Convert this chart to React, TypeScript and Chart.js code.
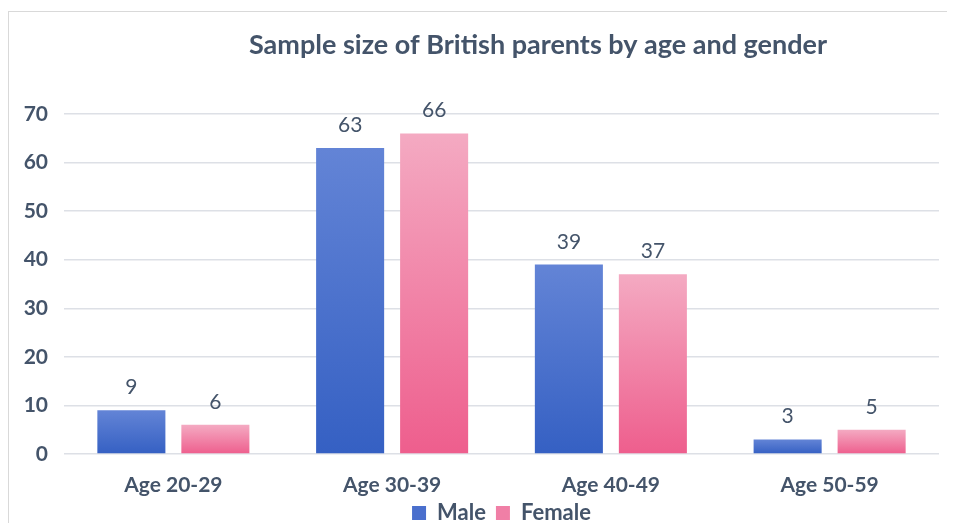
import { useEffect, useRef } from "react";
import { Chart, registerables } from "chart.js";

Chart.register(...registerables);

// Chart content
const chartTitle = "Sample size of British parents by age and gender";
const categories = ["Age 20-29", "Age 30-39", "Age 40-49", "Age 50-59"];
const seriesNames = ["Male", "Female"];
const maleCounts = [9, 63, 39, 3];
const femaleCounts = [6, 66, 37, 5];
const yMax = 70;
const yStep = 10;

// Styling
const textColor = "#44546A";
const gridColor = "#DDE0E6";
const fontFamily = "Lato, 'Open Sans', sans-serif";
const maleTop = "#6384D6";
const maleBottom = "#3560C3";
const femaleTop = "#F4AAC2";
const femaleBottom = "#EE5E8D";
const legendSwatches = ["#4A6FCD", "#F07FA6"];

// Vertical gradient spanning each bar, from its top down to the baseline
function barGradient(top: string, bottom: string) {
  return (ctx: any) => {
    const chart = ctx.chart;
    if (ctx.type !== "data" || !chart.chartArea || !chart.scales.y) return bottom;
    const yScale = chart.scales.y;
    const yTop = yScale.getPixelForValue(ctx.raw as number);
    const yBase = yScale.getPixelForValue(0);
    if (!isFinite(yTop) || !isFinite(yBase) || yBase - yTop < 1) return bottom;
    const g = chart.ctx.createLinearGradient(0, yTop, 0, yBase);
    g.addColorStop(0, top);
    g.addColorStop(1, bottom);
    return g;
  };
}

// Title drawn over the canvas, centred on the whole chart frame
const titlePlugin = {
  id: "frameTitle",
  afterDraw(chart: any) {
    const c = chart.ctx;
    c.save();
    c.font = `bold 27px ${fontFamily}`;
    c.fillStyle = textColor;
    c.textAlign = "center";
    c.textBaseline = "alphabetic";
    c.fillText(chartTitle, 529, 42);
    c.restore();
  },
};

// Category labels under the x axis, placed from the category scale
const categoryLabelPlugin = {
  id: "categoryLabels",
  afterDraw(chart: any) {
    const c = chart.ctx;
    const xScale = chart.scales.x;
    c.save();
    c.font = `bold 21px ${fontFamily}`;
    c.fillStyle = textColor;
    c.textAlign = "center";
    c.textBaseline = "middle";
    categories.forEach((label, i) => {
      c.fillText(label, xScale.getPixelForTick(i), chart.chartArea.bottom + 31);
    });
    c.restore();
  },
};

// Value labels above each bar
const valueLabelPlugin = {
  id: "valueLabels",
  afterDatasetsDraw(chart: any) {
    const c = chart.ctx;
    c.save();
    c.font = `21px ${fontFamily}`;
    c.fillStyle = textColor;
    c.textAlign = "center";
    c.textBaseline = "alphabetic";
    chart.data.datasets.forEach((ds: any, di: number) => {
      const meta = chart.getDatasetMeta(di);
      meta.data.forEach((bar: any, i: number) => {
        c.fillText(String(ds.data[i]), bar.x, bar.y - 16);
      });
    });
    c.restore();
  },
};

export default function App() {
  const canvasRef = useRef<HTMLCanvasElement | null>(null);

  useEffect(() => {
    if (!canvasRef.current) return;
    const chart = new Chart(canvasRef.current, {
      type: "bar",
      data: {
        labels: categories,
        datasets: [
          {
            label: seriesNames[0],
            data: maleCounts,
            backgroundColor: barGradient(maleTop, maleBottom),
            borderWidth: 0,
          },
          {
            label: seriesNames[1],
            data: femaleCounts,
            backgroundColor: barGradient(femaleTop, femaleBottom),
            borderWidth: 0,
          },
        ],
      },
      options: {
        animation: false,
        responsive: false,
        maintainAspectRatio: false,
        devicePixelRatio: 1,
        layout: { padding: { top: 102, right: 16, left: 0, bottom: 0 } },
        datasets: {
          bar: { categoryPercentage: 0.768, barPercentage: 0.81 },
        },
        scales: {
          x: {
            afterFit: (scale: any) => {
              scale.height = 38;
            },
            grid: { display: false, drawTicks: false },
            border: { display: false },
            ticks: { display: false },
          },
          y: {
            min: 0,
            max: yMax,
            afterFit: (scale: any) => {
              scale.width = 55;
            },
            grid: { color: gridColor, lineWidth: 1.5, drawTicks: false },
            border: { display: false },
            ticks: {
              stepSize: yStep,
              color: textColor,
              padding: 16,
              font: { family: fontFamily, size: 21, weight: "bold" },
            },
          },
        },
        plugins: {
          title: { display: false },
          tooltip: { enabled: false },
          legend: {
            display: true,
            position: "bottom",
            fullSize: false,
            labels: {
              boxWidth: 14,
              boxHeight: 14,
              padding: 10,
              color: textColor,
              font: { family: fontFamily, size: 22, weight: "bold" },
              generateLabels: (ch: any) =>
                ch.data.datasets.map((ds: any, i: number) => ({
                  text: ds.label,
                  fillStyle: legendSwatches[i],
                  strokeStyle: legendSwatches[i],
                  lineWidth: 0,
                  hidden: false,
                  datasetIndex: i,
                  fontColor: textColor,
                })),
            },
          },
        },
      },
      plugins: [titlePlugin, categoryLabelPlugin, valueLabelPlugin],
    } as any);
    return () => chart.destroy();
  }, []);

  return (
    <div style={{ paddingTop: 3 }}>
      <div
        style={{
          width: 947,
          height: 512,
          overflow: "hidden",
          borderTop: "1px solid #D9D9D9",
          borderLeft: "1px solid #D9D9D9",
          boxSizing: "border-box",
          background: "#fff",
        }}
      >
        <canvas ref={canvasRef} width={946} height={522} style={{ display: "block" }} />
      </div>
    </div>
  );
}
